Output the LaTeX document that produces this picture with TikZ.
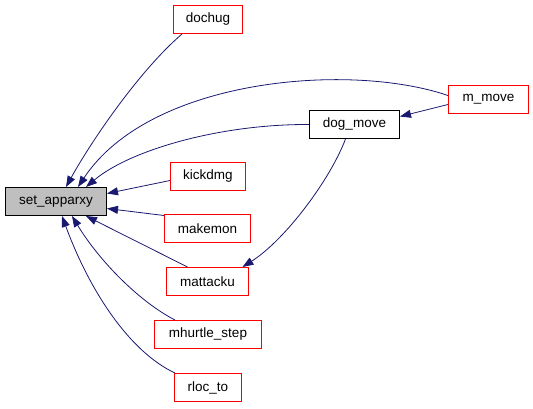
\documentclass[tikz,border=0pt]{standalone}
\usepackage{fontspec}
\setmainfont{Liberation Sans}
\usetikzlibrary{arrows.meta,backgrounds}
\definecolor{edgeblue}{RGB}{25,25,112}
\definecolor{boxgray}{RGB}{191,191,191}
\definecolor{boxred}{RGB}{255,0,0}
\begin{document}
\begin{tikzpicture}[x=1pt,y=-1pt,
    every node/.style={font=\fontsize{13.5}{15}\selectfont,minimum height=28pt,inner sep=0pt},
    fnbox/.style={draw=boxred,fill=white,line width=1pt},
    curbox/.style={draw=black,fill=boxgray,line width=1pt},
    callarrow/.style={draw=edgeblue,line width=0.8pt,
      {Triangle[length=11pt,width=8pt]}-}]
  \useasboundingbox (0,0) rectangle (533,408);

  % the function itself
  \node[curbox,minimum width=101pt] (set) at (56,201.5) {set\_apparxy};

  % callers
  \node[fnbox,minimum width=69pt] (dochug) at (208,19.5) {dochug};
  \node[fnbox,minimum width=80pt] (mmove) at (488.5,99.5) {m\_move};
  \node[draw=black,fill=white,line width=1pt,minimum width=90pt] (dogmove) at (354.5,124.5) {dog\_move};
  \node[fnbox,minimum width=75pt] (kickdmg) at (208,176.5) {kickdmg};
  \node[fnbox,minimum width=86pt] (makemon) at (207.5,228.5) {makemon};
  \node[fnbox,minimum width=82pt] (mattacku) at (207.5,281.5) {mattacku};
  \node[fnbox,minimum width=107pt] (mhurtle) at (208,334.5) {mhurtle\_step};
  \node[fnbox,minimum width=67pt] (rlocto) at (208,387.5) {rloc\_to};

  \begin{scope}[on background layer]
  % calls into set_apparxy
  \draw[callarrow] ([xshift=10pt]set.north) .. controls (92,140) and (140,70) .. ([xshift=9pt]dochug.south west);
  \draw[callarrow] ([xshift=22pt]set.north) .. controls (150,78) and (350,62) .. ([yshift=4pt]mmove.west);
  \draw[callarrow] ([xshift=30pt]set.north) .. controls (130,150) and (220,124) .. (dogmove.west);
  \draw[callarrow] ([yshift=8pt]set.east) -- ([yshift=-4pt]kickdmg.west);
  \draw[callarrow] ([yshift=-7pt]set.east) -- ([yshift=13pt]makemon.west);
  \draw[callarrow] ([xshift=30pt]set.south) -- ([xshift=-20pt]mattacku.north);
  \draw[callarrow] ([xshift=16pt]set.south) .. controls (100,262) and (140,302) .. ([xshift=-33pt]mhurtle.north);
  \draw[callarrow] ([xshift=6pt]set.south) .. controls (90,292) and (130,352) .. ([xshift=-33pt]rlocto.north);

  % dog_move chain
  \draw[callarrow] ([yshift=8pt]dogmove.east) -- ([yshift=-5pt]mmove.west);
  \draw[callarrow] ([xshift=35pt]mattacku.north) .. controls (285,240) and (330,180) .. ([xshift=-9pt]dogmove.south);
  \end{scope}
\end{tikzpicture}
\end{document}
